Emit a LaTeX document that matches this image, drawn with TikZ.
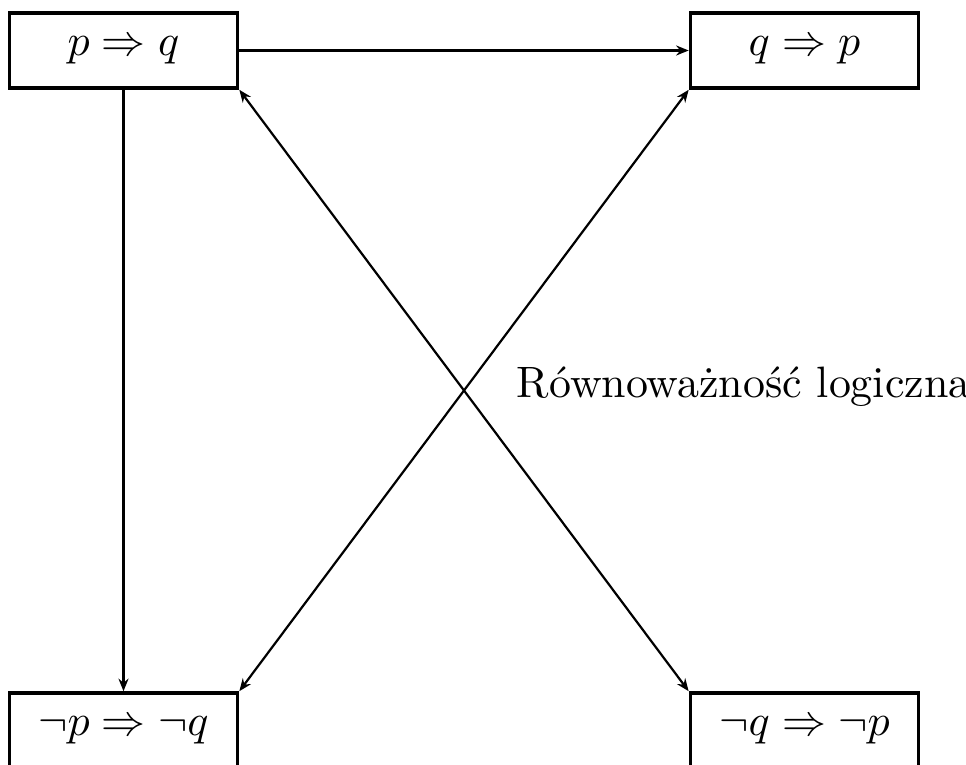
\documentclass[tikz,border=0pt]{standalone}
\usepackage{tikz}
\usetikzlibrary{arrows.meta}
\tikzset{
  impl box/.style={draw,line width=.8pt,minimum width=1.824cm,minimum height=.6cm,inner sep=0pt},
  impl arrow/.style={line width=.5pt,-{Stealth[length=1mm,width=.8mm]}},
  impl both/.style={line width=.5pt,{Stealth[length=1mm,width=.8mm]}-{Stealth[length=1mm,width=.8mm]}}
}
\begin{document}
\begin{tikzpicture}[x=.008cm,y=-.008cm]
  \useasboundingbox (0,0) rectangle (966,765);
  \node[impl box] (pq) at (123.5,50.5) {$p\Rightarrow q$};
  \node[impl box] (qp) at (804.5,50.5) {$q\Rightarrow p$};
  \node[impl box] (npnq) at (123.5,730.5) {$\neg p\Rightarrow\neg q$};
  \node[impl box] (nqnp) at (804.5,730.5) {$\neg q\Rightarrow\neg p$};
  \node[anchor=base west,inner sep=0pt] (rl) at (516,398) {Równoważność logiczna};
  \draw[impl arrow] (pq) -- (qp);
  \draw[impl arrow] (pq) -- (npnq);
  \draw[impl both] (pq.south east) -- (nqnp.north west);
  \draw[impl both] (npnq.north east) -- (qp.south west);
\end{tikzpicture}
\end{document}
